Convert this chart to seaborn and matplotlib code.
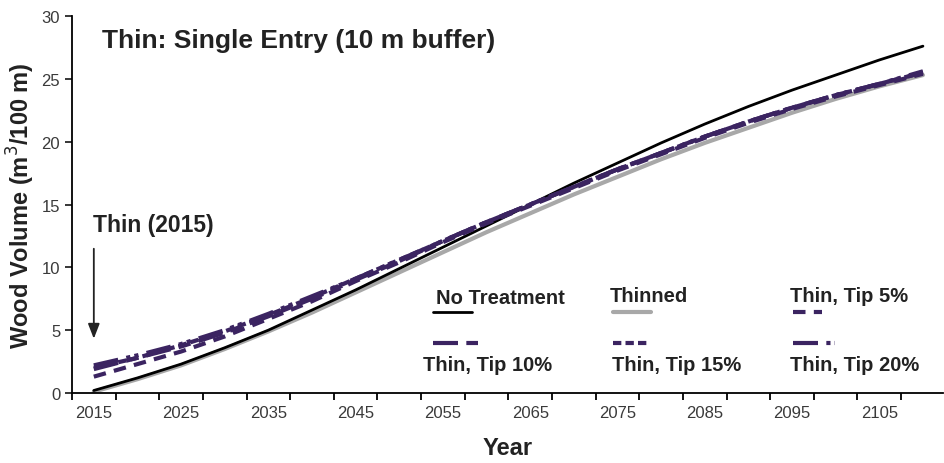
import numpy as np
import pandas as pd
import matplotlib
matplotlib.use("Agg")
import matplotlib.pyplot as plt
import seaborn as sns
from matplotlib.lines import Line2D

years = list(range(2015, 2111, 5))

no_treatment = [0.2, 1.2, 2.3, 3.6, 5.0, 6.6, 8.2, 9.9, 11.6, 13.3,
                15.0, 16.7, 18.3, 19.9, 21.4, 22.8, 24.1, 25.3, 26.5, 27.6]
thinned = [0.1, 1.1, 2.2, 3.5, 4.9, 6.4, 8.0, 9.6, 11.2, 12.8,
           14.3, 15.8, 17.2, 18.6, 19.9, 21.1, 22.3, 23.4, 24.4, 25.3]
tip5 = [1.3, 2.3, 3.3, 4.5, 5.9, 7.3, 8.9, 10.4, 12.0, 13.5,
        14.9, 16.3, 17.7, 19.0, 20.3, 21.5, 22.6, 23.6, 24.5, 25.4]
tip10 = [1.9, 2.8, 3.7, 4.8, 6.1, 7.5, 9.0, 10.5, 12.1, 13.6,
         15.0, 16.4, 17.8, 19.1, 20.4, 21.6, 22.7, 23.7, 24.6, 25.5]
tip15 = [2.0, 2.8, 3.8, 4.9, 6.2, 7.6, 9.1, 10.6, 12.1, 13.6,
         15.0, 16.4, 17.8, 19.1, 20.4, 21.6, 22.7, 23.7, 24.6, 25.5]
tip20 = [2.2, 3.0, 3.9, 5.0, 6.3, 7.7, 9.1, 10.6, 12.1, 13.6,
         15.0, 16.4, 17.8, 19.1, 20.4, 21.6, 22.7, 23.7, 24.6, 25.6]

labels = ["No Treatment", "Thinned", "Thin, Tip 5%",
          "Thin, Tip 10%", "Thin, Tip 15%", "Thin, Tip 20%"]
purple = "#3b2461"
styles = {
    "No Treatment": dict(color="black", lw=2.0, dashes=(None, None)),
    "Thinned": dict(color="#a8a8a8", lw=3.0, dashes=(None, None)),
    "Thin, Tip 5%": dict(color=purple, lw=3.0, dashes=(3, 2)),
    "Thin, Tip 10%": dict(color=purple, lw=3.0, dashes=(6, 2, 3, 2)),
    "Thin, Tip 15%": dict(color=purple, lw=3.0, dashes=(2, 1)),
    "Thin, Tip 20%": dict(color=purple, lw=3.0, dashes=(6, 2, 1, 1, 1, 2)),
}

df = pd.DataFrame({"Year": years, "No Treatment": no_treatment, "Thinned": thinned,
                   "Thin, Tip 5%": tip5, "Thin, Tip 10%": tip10,
                   "Thin, Tip 15%": tip15, "Thin, Tip 20%": tip20})
long = df.melt(id_vars="Year", var_name="series", value_name="vol")

sns.set_style("ticks")
plt.rcParams["font.family"] = ["Liberation Sans", "DejaVu Sans"]

fig = plt.figure(figsize=(9.44, 4.64), dpi=100)
ax = fig.add_axes([72 / 944, 1 - 394 / 464, 871 / 944, 377 / 464])

draw_order = ["Thinned", "No Treatment", "Thin, Tip 5%", "Thin, Tip 15%",
              "Thin, Tip 10%", "Thin, Tip 20%"]
for name in draw_order:
    st = styles[name]
    sub = long[long["series"] == name]
    sns.lineplot(data=sub, x="Year", y="vol", ax=ax, color=st["color"],
                 lw=st["lw"], legend=False)
    l = ax.lines[-1]
    if st["dashes"][0] is not None:
        l.set_dashes(st["dashes"])

ax.set_xlim(2012.5, 2112.3)
ax.set_ylim(0, 30)
ax.set_xticks(np.arange(2012.5, 2112.4, 5))
ax.set_xticklabels([])
ax.set_xticks(np.arange(2015, 2106, 10), minor=True)
ax.set_xticklabels([str(y) for y in range(2015, 2106, 10)], minor=True)
ax.tick_params(axis="x", which="minor", length=0, pad=9, labelsize=12, labelcolor="#3a3a3a")
ax.tick_params(axis="x", which="major", length=5, width=1.3, color="black")
ax.set_yticks(range(0, 31, 5))
ax.tick_params(axis="y", length=5, width=1.3, labelsize=12, labelcolor="#3a3a3a")
for s in ["top", "right"]:
    ax.spines[s].set_visible(False)
for s in ["left", "bottom"]:
    ax.spines[s].set_linewidth(1.3)
    ax.spines[s].set_color("black")

ax.set_xlabel("Year", fontsize=17, fontweight="bold", color="#222222", labelpad=11)
ax.set_ylabel("Wood Volume (m$^3$/100 m)", fontsize=17, fontweight="bold",
              color="#222222", labelpad=3)

ax.text(0.034, 28.1, "Thin: Single Entry (10 m buffer)", transform=ax.get_yaxis_transform(),
        fontsize=19, fontweight="bold", color="#222222", va="center")
ax.text(2014.9, 13.4, "Thin (2015)", fontsize=16.5, fontweight="bold", color="#222222", va="center")
ax.annotate("", xy=(2015, 4.1), xytext=(2015, 11.7),
            arrowprops=dict(arrowstyle="-|>,head_length=0.9,head_width=0.35",
                            color="#222222", lw=1.3))

# custom two-row legend, labels above lines on row 1 and below on row 2
def px(x, y):
    return ((x - 72) / 871, (394 - y) / 377)

legend_items = [
    ("No Treatment", 436, 298, 433, 472, 313),
    ("Thinned", 610, 297, 613, 651, 313),
    ("Thin, Tip 5%", 790, 297, 793, 822, 313),
    ("Thin, Tip 10%", 423, 366, 433, 478, 344),
    ("Thin, Tip 15%", 612, 366, 613, 647, 344),
    ("Thin, Tip 20%", 790, 366, 793, 835, 344),
]
for name, tx, ty, lx0, lx1, ly in legend_items:
    st = styles[name]
    x, y = px(tx, ty)
    ax.text(x, y, name, transform=ax.transAxes, fontsize=14.5, fontweight="bold",
            color="#222222", va="center", ha="left")
    a0 = px(lx0, ly)
    a1 = px(lx1, ly)
    ln = Line2D([a0[0], a1[0]], [a0[1], a1[1]], transform=ax.transAxes,
                color=st["color"], lw=st["lw"])
    if st["dashes"][0] is not None:
        ln.set_dashes(st["dashes"])
    ax.add_line(ln)

fig.savefig("out.png", dpi=100)
